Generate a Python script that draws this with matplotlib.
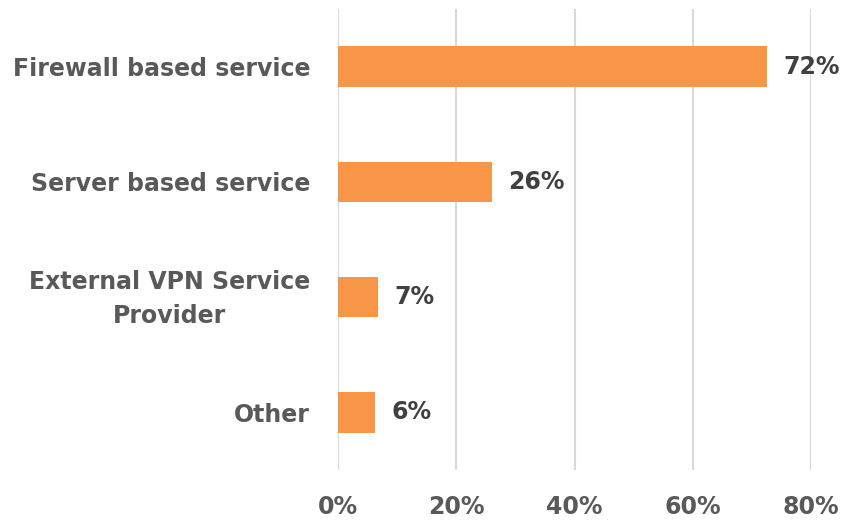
import matplotlib.pyplot as plt
from matplotlib.ticker import FuncFormatter
from matplotlib.transforms import ScaledTranslation

categories = ["Firewall based service", "Server based service",
              "External VPN Service\nProvider", "Other"]
shares = [72.5, 26.0, 6.8, 6.3]
labels = ["72%", "26%", "7%", "6%"]
xticks = [0, 20, 40, 60, 80]

bar_color = "#F79646"
label_grey = "#595959"
value_grey = "#404040"

plt.rcParams['font.family'] = ['DejaVu Sans']

fig = plt.figure(figsize=(8.44, 5.21), dpi=100)
ax = fig.add_axes([338/844, 1 - 470/521, (811 - 338)/844, (470 - 9)/521])

ypos = list(range(len(categories)))
ax.barh(ypos, shares, height=0.35, color=bar_color, zorder=2)

for y, v, t in zip(ypos, shares, labels):
    ax.text(v + 2.8, y, t, va="center", ha="left", fontsize=17,
            fontweight="bold", color=value_grey, zorder=3)

ax.set_xlim(0, 80)
ax.set_ylim(3.5, -0.5)
ax.set_xticks(xticks)
ax.xaxis.set_major_formatter(FuncFormatter(lambda v, p: f"{v:.0f}%"))
ax.set_yticks(ypos)
ax.set_yticklabels(categories, ha="right", multialignment="center",
                   linespacing=1.55)
ax.tick_params(axis="both", length=0, colors=label_grey, labelsize=17)
ax.tick_params(axis="y", pad=20)
ax.tick_params(axis="x", pad=18)
for lab in ax.get_xticklabels() + ax.get_yticklabels():
    lab.set_fontweight("bold")

# the two-line label sits a little low, nudge it up
lift = ScaledTranslation(0, 6/100, fig.dpi_scale_trans)
two_line = ax.get_yticklabels()[2]
two_line.set_transform(two_line.get_transform() + lift)

ax.grid(axis="x", color="#D9D9D9", linewidth=1.5, zorder=0)
for s in ax.spines.values():
    s.set_visible(False)

fig.savefig("out.png", dpi=100)
